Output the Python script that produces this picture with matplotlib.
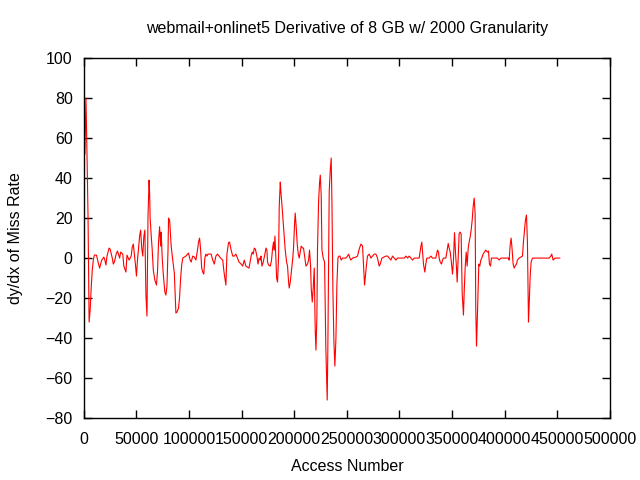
import numpy as np
import matplotlib
matplotlib.use('Agg')
import matplotlib.pyplot as plt

# access number (thousands) and derivative of miss rate
access_k = [
    0, 1, 2, 3, 4, 5, 6, 7, 8, 9, 10, 12, 14, 15, 17, 19, 20, 21, 22, 24,
    25, 27, 28, 29, 31, 32, 34, 35, 37, 38, 40, 41, 43, 45, 46, 47, 49, 50, 51, 52,
    53, 54, 55, 56, 57, 58, 59, 60, 61, 62, 62.5, 63, 64, 65, 66, 67.5, 69, 70, 71, 72,
    73, 73.5, 74.5, 75.5, 77, 78, 79, 80, 80.5, 81.5, 82, 83, 84.5, 86, 87.5, 88.5, 90, 91, 92, 93,
    94, 95.5, 97, 98.5, 99.5, 101, 102, 103.5, 105, 106.5, 108, 109, 110, 111, 112, 113, 114, 115, 116, 117,
    118, 119.5, 121, 122.5, 124, 125.5, 127, 128.5, 130, 132, 133, 134, 135, 135.5, 136, 137.5, 138.5, 140, 141.5, 143,
    144.5, 146, 147.5, 149.5, 151, 152.5, 154, 155.5, 157, 159, 160, 161, 162, 163, 164.5, 165.5, 166.5, 167.7, 168.3, 169.3,
    170.5, 172.1, 173.1, 174, 174.6, 175.6, 177.2, 178.4, 179.4, 180.3, 181, 181.6, 182.6, 183.2, 184.1, 185.1, 185.7, 186.7, 187.3, 188.3,
    189.5, 190.5, 191.4, 192.7, 193.6, 194.6, 195.2, 196.2, 197.4, 198.4, 199.3, 200.3, 200.9, 201.9, 202.8, 203.8, 204.7, 205.7, 206.6, 207.9,
    208.8, 209.8, 211.1, 212.6, 213.6, 214.5, 215.5, 216.1, 217.1, 218, 219, 219.9, 220.6, 221.5, 222.1, 223.1, 224, 224.7, 225.6, 226.3,
    227.5, 228.8, 230, 231.3, 231.9, 233.2, 234.2, 235.1, 235.8, 236.7, 237.7, 238.6, 239.6, 240.5, 241.5, 242.4, 243.4, 244.6, 245.9, 249,
    250.6, 251.6, 252.9, 253.8, 255.4, 258.6, 260.1, 261.7, 263.3, 264.9, 265.8, 266.8, 267.4, 268.7, 269.6, 271.2, 272.8, 274.4, 276, 277.6,
    279.1, 280.7, 281.7, 283.3, 287.1, 288.7, 290.2, 291.8, 293.4, 295, 296.6, 298.1, 304.5, 306.1, 307.7, 309.2, 310.8, 312.4, 314, 318.7,
    320.3, 321.2, 321.9, 322.8, 324.1, 325, 326, 327.3, 328.2, 329.8, 331.4, 334.5, 336.1, 337.1, 337.7, 338.7, 339.9, 340.9, 341.8, 344,
    345, 346.3, 347.2, 348.2, 349.1, 350.4, 351.3, 352.3, 353.2, 354.2, 354.8, 355.8, 356.7, 357.7, 358.6, 359.6, 360.8, 361.5, 362.4, 363.4,
    364.3, 365.3, 366.2, 367.2, 368.1, 369.1, 370, 371, 371.9, 372.5, 373.2, 373.8, 374.8, 375.4, 376.3, 377.3, 378.2, 379.5, 380.8, 382,
    383.6, 384.6, 385.5, 386.5, 387.4, 389, 393.1, 394.7, 396.3, 403.6, 404.2, 405.2, 406.1, 407.1, 408, 409, 409.9, 411.2, 412.1, 413.7,
    416.9, 417.8, 418.8, 419.7, 420.7, 421.6, 422.3, 422.6, 423.2, 424.2, 425.1, 426.4, 442.2, 443.8, 444.7, 446, 447.9, 452.3,
]
dydx = [
    55, 52, 80, 52, 20, -32, -26, -15, -6, -1, 1.5, 1.5, -3, -5, -1, 0.5, -1, -3.5, 1, 5,
    4.5, 0, -3, -2, 2.5, 3.5, 0, 3, 2, -4, -7, 1.5, -1, 1, 5.5, 7, -3, -9, -1, 5,
    11, 14, 5, 1, 10.7, 14, -18.5, -29, 21.5, 39, 33, 20, 11.5, 4, -6, -11, -13.5, -7, 8, 15.7,
    6, 13, 0, -8, -17, -18.5, -14, 4, 20, 19, 15, 6, -1, -7.5, -27.5, -27, -25, -19.5, -10, -3.5,
    0, 0.5, 1, 2, 2.5, -1, -2, 1, 0.5, -1, 4, 8, 10, 4, -5, -7, -8, 0, 2, 1,
    2, 2, 2, -1, -3, 1, 2, 1, 0, -1, -6, -10, -13.5, -5, 2, 7.7, 8, 4, 1, 1,
    2, 0, -2, -3, -4, -1, -4, -4.5, -5, 1, 3, 2, 5, 4.5, 1, -3, 0, -1, 1, -4,
    -2, 2, 5, 4, -2, -3.5, -4, -1, 5, 8, 4, 11, -1, -10, -12, 1, 25.7, 38, 33, 26.5,
    17.5, 10.7, 4, -2, -4, -12, -15, -12, -6, -1, 5, 17.5, 22.5, 15, 7, 2, 0, 3, 6, 5,
    5, 1, -4, -3, -1, 4, -4, -15, -22, -15, -5, -36, -46, -29, 5, 28, 37.5, 41.5, 31.5, 4,
    0, -2, -45, -71, -46, 33, 44, 50, 27.5, -16, -42.5, -54, -40, -13.5, 0, 1, 1, -1, 0, 0,
    1, 2, 0, -1, 0, 0.5, 1, 4.5, 7, 6, -3, -13.5, -10, -3, 1, 2, 0, 1, 2, 2,
    0, -4, -3, 0, 1, 1, 0, -1, 1, 0, -1, 0, 0, 1, 0, 1, 0, -1, 0, 0,
    5.7, 8, 3, -3, -7, -3, 0, 0, 0, 1, 0, 0, 4, 3, 0, -2, -3, -1, 0, 0,
    3, 7.3, 5, 3, -1, -8, -1, 12.7, 3, -5, -12, 0, 12.3, 13, 12, -17.7, -28.5, -17, -5, 3,
    -4, 5, 8, 10.7, 14, 19, 25.7, 30, 22, -25, -44, -33.5, -13.5, -3, -4, -1, 0, 2, 3, 4,
    3, 3.5, -3, -4, 0, 0, 0, -1, 0, 0, -1, 6.5, 10, 4, -3, -5, -4, -3, -1, 0,
    1, 8, 14, 19, 21.5, 8, -18.5, -32, -24, -9, -2, 0, 0, 1, 2, -1, 0, 0,
]

plt.rcParams['font.family'] = ['Liberation Sans', 'DejaVu Sans']

fig = plt.figure(figsize=(6.4, 4.8), dpi=100)
ax = fig.add_axes([0.131, 0.129, 0.822, 0.750])

x = np.array(access_k) * 1000
ax.plot(x, dydx, color='#ff0000', lw=0.8)

ax.set_xlim(0, 500000)
ax.set_ylim(-80, 100)
ax.set_xticks(np.arange(0, 500001, 50000))
ax.set_xticklabels([str(v) for v in range(0, 500001, 50000)])
ax.set_yticks(np.arange(-80, 101, 20))
ax.tick_params(direction='in', length=6, width=1, top=True, right=True,
               labelsize=11.5, pad=8, colors='black')
ax.tick_params(axis='x', pad=10)
for s in ax.spines.values():
    s.set_linewidth(1)

ax.set_title('webmail+onlinet5 Derivative of 8 GB w/ 2000 Granularity',
             fontsize=11.5, pad=18)
ax.set_xlabel('Access Number', fontsize=11.5, labelpad=9)
ax.set_ylabel('dy/dx of Miss Rate', fontsize=11.5, labelpad=16)

fig.savefig('out.png', dpi=100)
